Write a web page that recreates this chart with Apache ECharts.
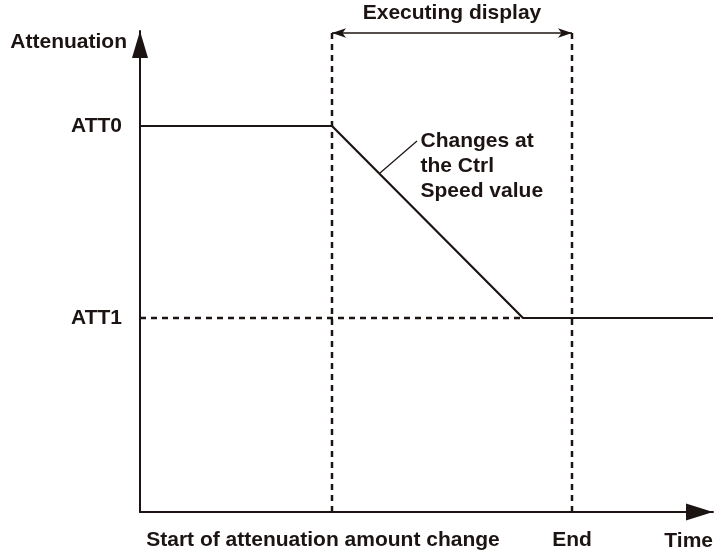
<!DOCTYPE html>
<html>
<head>
<meta charset="utf-8">
<script src="https://cdn.jsdelivr.net/npm/echarts@6/dist/echarts.min.js"></script>
<style>
  html, body { margin: 0; padding: 0; background: #fff; }
  #chart { width: 717px; height: 555px; }
</style>
</head>
<body>
<div id="chart"></div>
<script>
// time points (arbitrary units along the time axis)
var tStart = 0
var tChange = 192      // start of attenuation amount change
var tRampEnd = 383     // ATT1 reached
var tEnd = 432         // end of executing display
var tMax = 573
// attenuation levels
var att0 = 386
var att1 = 194
var attMax = 481
var attTop = 479       // height of the dashed markers / executing arrow

var attLine = [[tStart, att0], [tChange, att0], [tRampEnd, att1], [tMax, att1]]
var att1Guide = [[tStart, att1], [tRampEnd, att1]]
var startMarker = [[tChange, 0], [tChange, attTop]]
var endMarker = [[tEnd, 0], [tEnd, attTop]]
var leader = [[240, 339], [277, 371]]
var noteText = 'Changes at\nthe Ctrl\nSpeed value'

var yLabelValues = [att1, att0]
var yLabelNames = { 194: 'ATT1', 386: 'ATT0' }
var xLabelValues = [tChange, tEnd]

var ink = '#1c1412'
var font = 'Liberation Sans'
var fs = 21

var chart = echarts.init(document.getElementById('chart'))

var dashed = {
  color: ink,
  width: 2.5,
  type: [6, 5]
}

var option = {
  animation: false,
  grid: { left: 140, right: 4, top: 31, bottom: 43 },
  xAxis: {
    type: 'value',
    min: 0,
    max: tMax,
    name: 'Time',
    nameLocation: 'end',
    nameGap: 0,
    nameTextStyle: {
      color: ink, fontFamily: font, fontWeight: 'bold', fontSize: fs,
      align: 'right', verticalAlign: 'top', padding: [19, 0, 0, 0]
    },
    splitLine: { show: false },
    axisTick: { show: false },
    axisLine: {
      onZero: false,
      symbol: ['none', 'triangle'],
      symbolSize: [17, 27],
      symbolOffset: [0, -13.5],
      lineStyle: { color: ink, width: 2 }
    },
    axisLabel: {
      customValues: xLabelValues,
      margin: 18,
      color: ink,
      fontFamily: font,
      fontWeight: 'bold',
      fontSize: fs,
      formatter: function (v) {
        if (v === tChange) return '{s|Start of attenuation amount change}'
        if (v === tEnd) return 'End'
        return ''
      },
      rich: {
        s: { color: ink, fontFamily: font, fontWeight: 'bold', fontSize: fs, padding: [0, 18, 0, 0] }
      }
    }
  },
  yAxis: {
    type: 'value',
    min: 0,
    max: attMax,
    name: 'Attenuation',
    nameLocation: 'end',
    nameGap: -11,
    nameTextStyle: {
      color: ink, fontFamily: font, fontWeight: 'bold', fontSize: fs,
      align: 'right', verticalAlign: 'middle', padding: [0, 13, 0, 0]
    },
    splitLine: { show: false },
    axisTick: { show: false },
    axisLine: {
      onZero: false,
      symbol: ['none', 'triangle'],
      symbolSize: [16, 27],
      symbolOffset: [0, -13.5],
      lineStyle: { color: ink, width: 2 }
    },
    axisLabel: {
      customValues: yLabelValues,
      margin: 18,
      color: ink,
      fontFamily: font,
      fontWeight: 'bold',
      fontSize: fs,
      formatter: function (v) { return yLabelNames[v] || '' }
    }
  },
  series: [
    {
      type: 'line',
      data: att1Guide,
      symbol: 'none',
      lineStyle: dashed,
      z: 2
    },
    {
      type: 'line',
      data: startMarker,
      symbol: 'none',
      lineStyle: dashed,
      z: 2
    },
    {
      type: 'line',
      data: endMarker,
      symbol: 'none',
      lineStyle: dashed,
      z: 2
    },
    {
      type: 'line',
      data: attLine,
      symbol: 'none',
      lineStyle: { color: ink, width: 2.2 },
      z: 3,
      markLine: {
        silent: true,
        symbol: ['arrow', 'arrow'],
        symbolSize: [7, 14],
        lineStyle: { color: ink, width: 1.5, type: 'solid' },
        label: {
          show: true,
          position: 'middle',
          distance: 9,
          formatter: 'Executing display',
          color: ink,
          fontFamily: font,
          fontWeight: 'bold',
          fontSize: fs
        },
        data: [[{ coord: [tChange, attTop] }, { coord: [tEnd, attTop] }]]
      }
    },
    {
      type: 'line',
      data: leader,
      symbol: 'none',
      lineStyle: { color: ink, width: 1.2 },
      z: 3
    },
    {
      type: 'scatter',
      data: [leader[1]],
      symbolSize: 1,
      itemStyle: { color: 'rgba(0,0,0,0)', opacity: 1 },
      label: {
        show: true,
        position: 'right',
        distance: 3,
        align: 'left',
        verticalAlign: 'top',
        offset: [0, -12],
        lineHeight: 25,
        formatter: noteText,
        color: ink,
        fontFamily: font,
        fontWeight: 'bold',
        fontSize: fs
      }
    }
  ]
}

chart.setOption(option)
</script>
</body>
</html>
